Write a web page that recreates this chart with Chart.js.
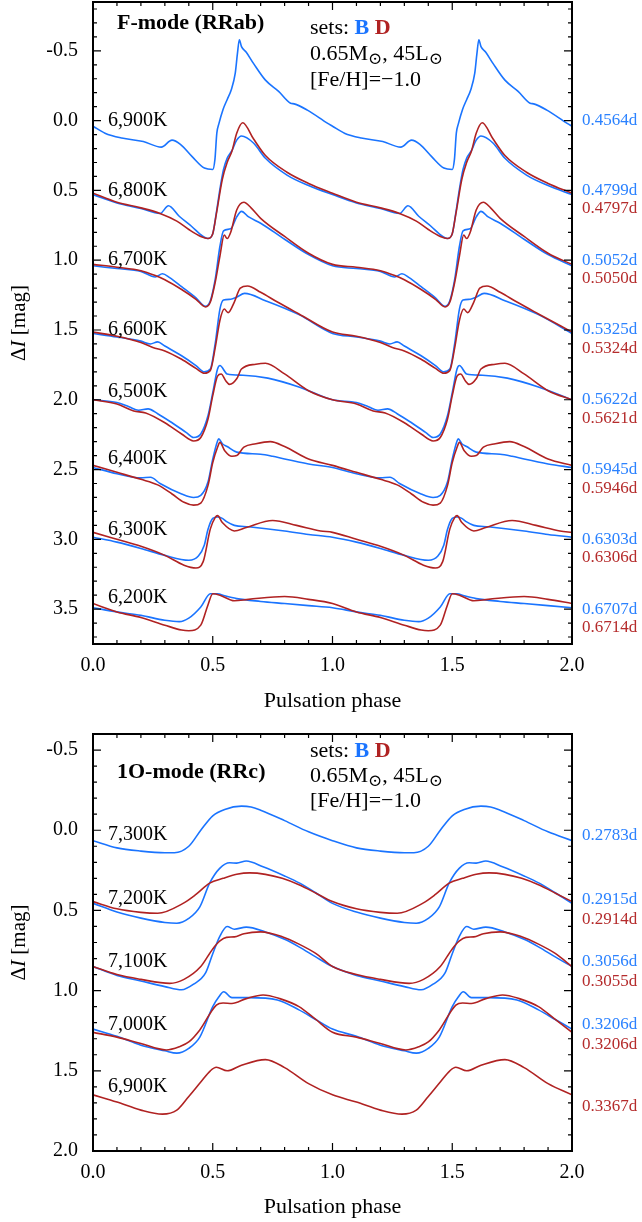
<!DOCTYPE html>
<html>
<head>
<meta charset="utf-8">
<script src="https://cdn.jsdelivr.net/npm/chart.js@4.4.1/dist/chart.umd.min.js"></script>
<style>
  body { margin: 0; background: #fff; }
  #wrap { position: relative; width: 642px; height: 1222px; }
  canvas { position: absolute; left: 0; }
  #topChart { top: 0; }
  #botChart { top: 720px; }
</style>
</head>
<body>
<div id="wrap">
  <canvas id="topChart" width="642" height="720"></canvas>
  <canvas id="botChart" width="642" height="502"></canvas>
</div>
<script>
// one pulsation cycle per model, [phase, delta I]; drawn twice (phase 0-2)
// F-mode (RRab)
const f6900B = [[0,0.04],[0.05,0.09],[0.12,0.125],[0.21,0.15],[0.285,0.19],[0.33,0.14],[0.365,0.17],[0.415,0.26],[0.465,0.34],[0.5,0.35],[0.509,0.28],[0.517,0.09],[0.526,0.02],[0.543,-0.08],[0.56,-0.15],[0.577,-0.22],[0.594,-0.34],[0.603,-0.48],[0.611,-0.58],[0.62,-0.53],[0.64,-0.49],[0.67,-0.41],[0.72,-0.29],[0.775,-0.21],[0.825,-0.125],[0.84,-0.12],[0.895,-0.075],[0.98,0.02],[1,0.04]];
const f6800B = [[0,0.53],[0.1,0.59],[0.2,0.63],[0.28,0.665],[0.315,0.61],[0.36,0.685],[0.41,0.755],[0.46,0.83],[0.48,0.845],[0.5,0.81],[0.515,0.66],[0.53,0.49],[0.545,0.35],[0.56,0.27],[0.58,0.215],[0.6,0.14],[0.62,0.11],[0.67,0.16],[0.72,0.27],[0.81,0.39],[0.9,0.465],[1,0.53]];
const f6800D = [[0,0.52],[0.1,0.585],[0.2,0.625],[0.28,0.665],[0.35,0.72],[0.4,0.78],[0.45,0.83],[0.48,0.845],[0.5,0.81],[0.515,0.67],[0.54,0.42],[0.56,0.3],[0.58,0.22],[0.6,0.09],[0.625,0.015],[0.67,0.13],[0.72,0.25],[0.81,0.37],[0.9,0.45],[1,0.52]];
const f6700B = [[0,1.04],[0.1,1.06],[0.2,1.08],[0.26,1.12],[0.29,1.097],[0.32,1.125],[0.37,1.19],[0.43,1.27],[0.47,1.33],[0.49,1.29],[0.51,1.14],[0.53,0.9],[0.545,0.79],[0.575,0.775],[0.6,0.69],[0.62,0.65],[0.65,0.69],[0.7,0.735],[0.8,0.85],[0.9,0.96],[1,1.04]];
const f6700D = [[0,1.03],[0.1,1.05],[0.2,1.075],[0.26,1.11],[0.3,1.14],[0.37,1.21],[0.43,1.28],[0.47,1.335],[0.49,1.3],[0.51,1.16],[0.53,0.97],[0.548,0.82],[0.56,0.845],[0.575,0.8],[0.6,0.64],[0.63,0.585],[0.66,0.625],[0.7,0.7],[0.8,0.83],[0.9,0.95],[1,1.03]];
const f6600B = [[0,1.525],[0.1,1.55],[0.2,1.58],[0.24,1.6],[0.27,1.585],[0.3,1.615],[0.37,1.685],[0.43,1.755],[0.465,1.8],[0.49,1.78],[0.51,1.6],[0.53,1.35],[0.545,1.285],[0.575,1.28],[0.6,1.265],[0.633,1.238],[0.72,1.29],[0.86,1.39],[1,1.525]];
const f6600D = [[0,1.515],[0.1,1.545],[0.2,1.59],[0.25,1.625],[0.3,1.65],[0.37,1.71],[0.43,1.775],[0.465,1.81],[0.49,1.79],[0.51,1.63],[0.53,1.43],[0.548,1.35],[0.564,1.376],[0.59,1.3],[0.615,1.2],[0.645,1.185],[0.7,1.23],[0.77,1.3],[0.86,1.385],[1,1.515]];
const f6500B = [[0,2.0],[0.1,2.02],[0.15,2.05],[0.19,2.075],[0.23,2.065],[0.27,2.1],[0.33,2.165],[0.39,2.235],[0.42,2.27],[0.45,2.245],[0.48,2.115],[0.5,1.95],[0.52,1.78],[0.53,1.755],[0.56,1.815],[0.626,1.824],[0.73,1.845],[0.863,1.91],[1,2.0]];
const f6500D = [[0,2.0],[0.1,2.03],[0.17,2.08],[0.22,2.095],[0.3,2.165],[0.37,2.245],[0.42,2.295],[0.45,2.27],[0.48,2.14],[0.5,1.97],[0.52,1.83],[0.535,1.815],[0.555,1.865],[0.57,1.89],[0.6,1.85],[0.62,1.78],[0.68,1.745],[0.72,1.738],[0.8,1.815],[0.9,1.935],[1,2.0]];
const f6400B = [[0,2.485],[0.1,2.53],[0.2,2.56],[0.24,2.555],[0.28,2.6],[0.37,2.675],[0.42,2.7],[0.45,2.685],[0.48,2.59],[0.5,2.425],[0.52,2.295],[0.525,2.28],[0.54,2.315],[0.56,2.335],[0.6,2.375],[0.7,2.39],[0.75,2.405],[0.8,2.425],[0.9,2.46],[1,2.485]];
const f6400D = [[0,2.47],[0.1,2.52],[0.2,2.57],[0.27,2.61],[0.33,2.675],[0.38,2.735],[0.42,2.755],[0.45,2.74],[0.48,2.615],[0.5,2.45],[0.52,2.34],[0.53,2.305],[0.55,2.365],[0.58,2.405],[0.6,2.4],[0.63,2.34],[0.68,2.315],[0.74,2.3],[0.8,2.335],[0.9,2.425],[1,2.47]];
const f6300B = [[0,2.985],[0.1,3.02],[0.2,3.065],[0.3,3.115],[0.4,3.15],[0.44,3.12],[0.465,3.04],[0.48,2.93],[0.5,2.85],[0.52,2.84],[0.54,2.85],[0.56,2.875],[0.59,2.9],[0.65,2.91],[0.8,2.94],[0.9,2.965],[1,2.985]];
const f6300D = [[0,2.95],[0.1,3.0],[0.2,3.05],[0.3,3.115],[0.38,3.185],[0.43,3.205],[0.46,3.16],[0.49,2.925],[0.51,2.845],[0.52,2.83],[0.54,2.88],[0.59,2.94],[0.64,2.915],[0.75,2.865],[0.85,2.9],[0.95,2.94],[1,2.95]];
const f6200B = [[0,3.49],[0.1,3.52],[0.2,3.545],[0.3,3.58],[0.36,3.59],[0.4,3.565],[0.45,3.485],[0.49,3.39],[0.52,3.39],[0.55,3.405],[0.6,3.425],[0.7,3.445],[0.8,3.46],[0.9,3.475],[1,3.49]];
const f6200D = [[0,3.46],[0.1,3.52],[0.2,3.56],[0.3,3.615],[0.37,3.65],[0.4,3.655],[0.45,3.615],[0.48,3.47],[0.5,3.39],[0.53,3.4],[0.59,3.44],[0.65,3.43],[0.8,3.41],[0.9,3.43],[1,3.46]];

// 1O-mode (RRc)
const o7300B = [[0,0.065],[0.1,0.11],[0.2,0.13],[0.3,0.14],[0.34,0.14],[0.4,0.1],[0.45,0.0],[0.5,-0.09],[0.55,-0.13],[0.62,-0.15],[0.66,-0.145],[0.7,-0.125],[0.8,-0.06],[0.9,0.01],[1,0.065]];
const o7200B = [[0,0.456],[0.1,0.51],[0.2,0.548],[0.3,0.575],[0.35,0.58],[0.4,0.55],[0.446,0.478],[0.487,0.33],[0.529,0.238],[0.571,0.203],[0.6,0.205],[0.64,0.192],[0.71,0.228],[0.8,0.285],[0.863,0.33],[0.93,0.39],[1,0.456]];
const o7200D = [[0,0.445],[0.1,0.49],[0.2,0.512],[0.27,0.518],[0.376,0.456],[0.43,0.4],[0.487,0.33],[0.543,0.3],[0.6,0.275],[0.654,0.266],[0.72,0.275],[0.79,0.3],[0.86,0.34],[0.933,0.394],[1,0.445]];
const o7100B = [[0,0.85],[0.1,0.905],[0.2,0.94],[0.3,0.975],[0.37,0.995],[0.42,0.96],[0.47,0.89],[0.5,0.77],[0.53,0.66],[0.56,0.6],[0.59,0.617],[0.64,0.604],[0.72,0.634],[0.8,0.68],[0.86,0.727],[0.93,0.79],[1,0.85]];
const o7100D = [[0,0.85],[0.1,0.9],[0.2,0.93],[0.32,0.955],[0.38,0.93],[0.45,0.85],[0.5,0.74],[0.53,0.69],[0.557,0.668],[0.59,0.665],[0.63,0.645],[0.7,0.634],[0.79,0.664],[0.86,0.71],[0.93,0.768],[1,0.85]];
const o7000B = [[0,1.24],[0.1,1.285],[0.2,1.34],[0.3,1.375],[0.35,1.39],[0.4,1.36],[0.446,1.29],[0.5,1.1],[0.525,1.04],[0.546,1.007],[0.58,1.044],[0.65,1.044],[0.77,1.058],[0.86,1.12],[0.93,1.18],[1,1.24]];
const o7000D = [[0,1.26],[0.1,1.29],[0.2,1.33],[0.306,1.37],[0.36,1.35],[0.4,1.32],[0.446,1.245],[0.515,1.09],[0.543,1.077],[0.58,1.08],[0.64,1.05],[0.71,1.027],[0.78,1.05],[0.86,1.1],[0.93,1.18],[1,1.26]];
const o6900D = [[0,1.65],[0.1,1.695],[0.2,1.745],[0.29,1.77],[0.35,1.745],[0.4,1.66],[0.45,1.57],[0.49,1.5],[0.515,1.478],[0.56,1.5],[0.62,1.465],[0.72,1.43],[0.8,1.48],[0.9,1.58],[1,1.65]];

// labels
const topTemps = ['6,900K','6,800K','6,700K','6,600K','6,500K','6,400K','6,300K','6,200K'];
const topPeriodsB = ['0.4564d','0.4799d','0.5052d','0.5325d','0.5622d','0.5945d','0.6303d','0.6707d'];
const topPeriodsD = [null,'0.4797d','0.5050d','0.5324d','0.5621d','0.5946d','0.6306d','0.6714d'];
const botTemps = ['7,300K','7,200K','7,100K','7,000K','6,900K'];
const botPeriodsB = ['0.2783d','0.2915d','0.3056d','0.3206d',null];
const botPeriodsD = [null,'0.2914d','0.3055d','0.3206d','0.3367d'];

const phaseTicks = [0, 0.5, 1, 1.5, 2];
const magTicksTop = [-0.5, 0, 0.5, 1, 1.5, 2, 2.5, 3, 3.5];
const magTicksBot = [-0.5, 0, 0.5, 1, 1.5, 2];

const BLUE = '#1a74ff';
const RED = '#b02222';
const BLUE_TXT = '#2b82ff';
const RED_TXT = '#b52c2c';
const SERIF = '"Liberation Serif", "DejaVu Serif", serif';

const twoCycles = pts => pts.map(p => ({x: p[0], y: p[1]}))
    .concat(pts.slice(1).map(p => ({x: p[0] + 1, y: p[1]})));

const curve = (pts, color) => ({
    data: twoCycles(pts),
    borderColor: color,
    borderWidth: 1.6,
    pointRadius: 0,
    fill: false
});

function drawRuns(ctx, x, y, runs) {
    runs.forEach(r => {
        ctx.font = r.font;
        ctx.fillStyle = r.color || '#000';
        ctx.fillText(r.text, x, y + (r.dy || 0));
        x += ctx.measureText(r.text).width;
    });
}

function runsWidth(ctx, runs) {
    return runs.reduce((w, r) => { ctx.font = r.font; return w + ctx.measureText(r.text).width; }, 0);
}

const panelDecor = {
    id: 'panelDecor',
    afterDraw(chart, args, o) {
        const {ctx, chartArea: a, scales: {x, y}} = chart;
        ctx.save();
        ctx.strokeStyle = '#000';
        ctx.lineWidth = 1.2;
        ctx.beginPath();
        for (let i = 0; i <= 20; i++) {
            const px = x.getPixelForValue(i / 10);
            const len = i % 5 === 0 ? 8 : 4;
            ctx.moveTo(px, a.bottom); ctx.lineTo(px, a.bottom - len);
            ctx.moveTo(px, a.top); ctx.lineTo(px, a.top + len);
        }
        for (let k = Math.ceil(o.yMin * 10); k <= Math.floor(o.yMax * 10); k++) {
            const py = y.getPixelForValue(k / 10);
            const len = k % 5 === 0 ? 8 : 4;
            ctx.moveTo(a.left, py); ctx.lineTo(a.left + len, py);
            ctx.moveTo(a.right, py); ctx.lineTo(a.right - len, py);
        }
        ctx.stroke();
        ctx.lineWidth = 2;
        ctx.strokeRect(a.left, a.top, a.right - a.left, a.bottom - a.top);

        ctx.textBaseline = 'middle';
        ctx.textAlign = 'left';
        // temperatures
        ctx.font = '20px ' + SERIF;
        ctx.fillStyle = '#000';
        o.temps.forEach((t, i) => ctx.fillText(t, 108, y.getPixelForValue(o.tempRows[i])));
        // periods
        ctx.font = '17px ' + SERIF;
        o.periodsB.forEach((p, i) => {
            if (!p) return;
            ctx.fillStyle = BLUE_TXT;
            ctx.fillText(p, 582, y.getPixelForValue(o.periodRows[i]));
        });
        o.periodsD.forEach((p, i) => {
            if (!p) return;
            ctx.fillStyle = RED_TXT;
            ctx.fillText(p, 582, y.getPixelForValue(o.periodRows[i]) + o.redGap);
        });

        // panel title and model block
        drawRuns(ctx, 117, o.titleY, [{text: o.title, font: 'bold 22px ' + SERIF}]);
        const f = '22px ' + SERIF, fb = 'bold 22px ' + SERIF, fs = '17px "DejaVu Serif", serif';
        drawRuns(ctx, 310, o.setsY, [
            {text: 'sets: ', font: f},
            {text: 'B', font: fb, color: BLUE},
            {text: ' ', font: f},
            {text: 'D', font: fb, color: RED}
        ]);
        drawRuns(ctx, 310, o.setsY + o.lineGap, [
            {text: '0.65M', font: f},
            {text: '\u2299', font: fs, dy: 6},
            {text: ', 45L', font: f},
            {text: '\u2299', font: fs, dy: 6}
        ]);
        drawRuns(ctx, 310, o.setsY + 2 * o.lineGap, [{text: '[Fe/H]=\u22121.0', font: f}]);

        // axis titles
        const xt = [{text: 'Pulsation phase', font: '22px ' + SERIF}];
        drawRuns(ctx, (a.left + a.right) / 2 - runsWidth(ctx, xt) / 2, o.xTitleY, xt);
        const yt = [
            {text: '\u0394', font: '21px ' + SERIF},
            {text: 'I', font: 'italic 21px ' + SERIF},
            {text: ' [mag]', font: '21px ' + SERIF}
        ];
        ctx.translate(19, (a.top + a.bottom) / 2);
        ctx.rotate(-Math.PI / 2);
        drawRuns(ctx, -runsWidth(ctx, yt) / 2, 0, yt);
        ctx.restore();
    }
};

function makeOptions(cfg) {
    return {
        responsive: false,
        animation: false,
        devicePixelRatio: 1,
        layout: {padding: {left: 0, right: 70, top: cfg.top, bottom: 0}},
        elements: {line: {cubicInterpolationMode: 'monotone'}},
        plugins: {legend: {display: false}, tooltip: {enabled: false}, panelDecor: cfg},
        scales: {
            x: {
                type: 'linear', min: 0, max: 2,
                grid: {display: false, drawTicks: false}, border: {display: false},
                ticks: {autoSkip: false, maxRotation: 0, padding: 10, color: '#000',
                        font: {family: SERIF, size: 20}, callback: v => v.toFixed(1)},
                afterBuildTicks: s => { s.ticks = phaseTicks.map(v => ({value: v})); },
                afterFit: s => { s.height = cfg.xHeight; s.paddingLeft = 0; s.paddingRight = 0; }
            },
            y: {
                type: 'linear', reverse: true, min: cfg.yMin, max: cfg.yMax,
                grid: {display: false, drawTicks: false}, border: {display: false},
                ticks: {autoSkip: false, padding: 15, color: '#000',
                        font: {family: SERIF, size: 20}, callback: v => v.toFixed(1)},
                afterBuildTicks: s => { s.ticks = cfg.yTicks.map(v => ({value: v})); },
                afterFit: s => { s.width = 93; s.paddingTop = 0; s.paddingBottom = 0; }
            }
        }
    };
}

new Chart(document.getElementById('topChart'), {
    type: 'line',
    data: {datasets: [
        curve(f6800D, RED), curve(f6700D, RED), curve(f6600D, RED), curve(f6500D, RED),
        curve(f6400D, RED), curve(f6300D, RED), curve(f6200D, RED),
        curve(f6900B, BLUE), curve(f6800B, BLUE), curve(f6700B, BLUE), curve(f6600B, BLUE),
        curve(f6500B, BLUE), curve(f6400B, BLUE), curve(f6300B, BLUE), curve(f6200B, BLUE)
    ]},
    options: makeOptions({
        top: 2, xHeight: 76, yMin: -0.85, yMax: 3.75, yTicks: magTicksTop,
        title: 'F-mode (RRab)', titleY: 23, setsY: 28, lineGap: 26, xTitleY: 701,
        temps: topTemps, tempRows: [0.0, 0.5, 1.0, 1.5, 1.94, 2.42, 2.93, 3.42],
        periodsB: topPeriodsB, periodsD: topPeriodsD,
        periodRows: [0, 0.5, 1, 1.5, 2, 2.5, 3, 3.5], redGap: 18.5
    }),
    plugins: [panelDecor]
});

new Chart(document.getElementById('botChart'), {
    type: 'line',
    data: {datasets: [
        curve(o7200D, RED), curve(o7100D, RED), curve(o7000D, RED), curve(o6900D, RED),
        curve(o7300B, BLUE), curve(o7200B, BLUE), curve(o7100B, BLUE), curve(o7000B, BLUE)
    ]},
    options: makeOptions({
        top: 14, xHeight: 71, yMin: -0.6, yMax: 2.0, yTicks: magTicksBot,
        title: '1O-mode (RRc)', titleY: 52, setsY: 31, lineGap: 25, xTitleY: 487,
        temps: botTemps, tempRows: [0.03, 0.43, 0.82, 1.21, 1.6],
        periodsB: botPeriodsB, periodsD: botPeriodsD,
        periodRows: [0.03, 0.43, 0.82, 1.21, 1.6], redGap: 20
    }),
    plugins: [panelDecor]
});
</script>
</body>
</html>
